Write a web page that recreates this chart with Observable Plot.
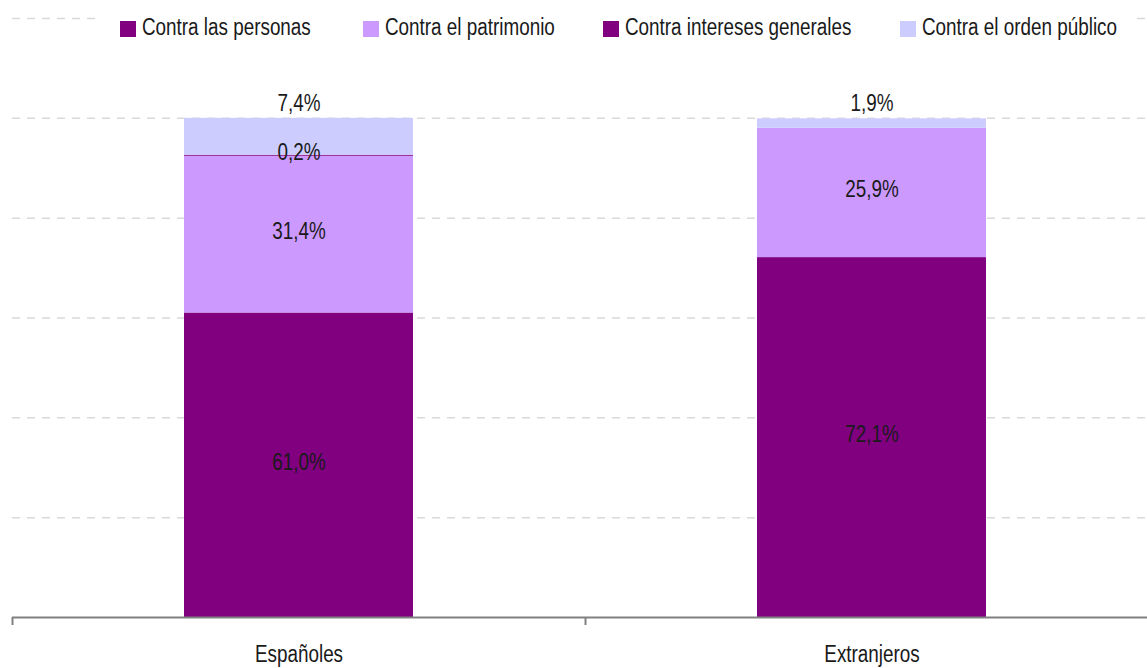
<!DOCTYPE html>
<html>
<head>
<meta charset="utf-8">
<script src="https://cdn.jsdelivr.net/npm/d3@7"></script>
<script src="https://cdn.jsdelivr.net/npm/@observablehq/plot@0.6"></script>
<style>
  html, body { margin: 0; padding: 0; background: #fff; }
  #wrap { position: relative; width: 1147px; height: 668px; overflow: hidden; font-family: "Liberation Sans", Arial, sans-serif; }
  #legend { position: absolute; left: 95px; top: 8px; width: 1040px; height: 38px; background: #fff; display: flex; align-items: center; padding-left: 25px; box-sizing: border-box; font-size: 23px; color: #1a1a1a; overflow: hidden; }
  #legend .item { display: flex; align-items: center; white-space: nowrap; flex: none; }
  #legend .sw { width: 16px; height: 16px; margin-right: 6px; margin-top: 4px; flex: none; }
  #legend .lab { display: inline-block; transform: scaleX(0.82); transform-origin: 0 50%; }
</style>
</head>
<body>
<div id="wrap"><div id="chart"></div><div id="legend"></div></div>
<script>
const categories = ["Españoles", "Extranjeros"];
const series = ["Contra las personas", "Contra el patrimonio", "Contra intereses generales", "Contra el orden público"];
const espanoles = [61.0, 31.4, 0.2, 7.4];
const extranjeros = [72.1, 25.9, 0.0, 1.9];
const colors = ["#800080", "#CC99FF", "#800080", "#CCCCFF"];
const yTicks = [20, 40, 60, 80, 100, 120];
const legendWidths = [243, 240, 297, null];

const values = [espanoles, extranjeros];
const rows = [];
categories.forEach((c, i) => series.forEach((s, j) => rows.push({category: c, series: s, value: values[i][j]})));

const fmt = v => v.toFixed(1).replace(".", ",") + "%";
const topSeries = series[series.length - 1];
const font = '"Liberation Sans", Arial, sans-serif';
const narrow = 0.82;

const chart = Plot.plot({
  width: 1147,
  height: 668,
  marginTop: 18,
  marginBottom: 51,
  marginLeft: 12,
  marginRight: -11,
  style: {fontFamily: font, fontSize: "23px", color: "#1a1a1a", background: "#fff"},
  x: {type: "band", domain: categories, paddingInner: 0.6, paddingOuter: 0.3, axis: null},
  y: {domain: [0, 120], axis: null},
  color: {domain: series, range: colors},
  marks: [
    Plot.gridY(yTicks, {stroke: "#d9d9d9", strokeOpacity: 1, strokeWidth: 1.5, strokeDasharray: "8,7"}),
    Plot.barY(rows, Plot.stackY({x: "category", y: "value", z: "series", fill: "series"})),
    Plot.text(rows, Plot.stackY({x: "category", y: "value", z: "series",
      text: d => (d.series !== topSeries && d.value > 0) ? fmt(d.value) : "",
      fill: "#1a1a1a", dy: -3})),
    Plot.text(rows, Plot.stackY2({x: "category", y: "value", z: "series",
      text: d => (d.series === topSeries && d.value > 0) ? fmt(d.value) : "",
      fill: "#1a1a1a", dy: -15})),
    Plot.ruleY([0], {stroke: "#808080", strokeWidth: 2}),
    Plot.axisX({tickSize: 8, dx: -286.5, tickFormat: () => "", label: null, stroke: "#808080", strokeWidth: 2, strokeOpacity: 1}),
    Plot.axisX({tickSize: 0, tickPadding: 28, fontSize: 23, fill: "#1a1a1a", label: null})
  ]
});
document.getElementById("chart").appendChild(chart);

// condense the text horizontally, like the narrow face of the original
chart.querySelectorAll("text").forEach(t => {
  if (!t.textContent) return;
  const w = t.getComputedTextLength();
  if (w > 0) {
    t.setAttribute("textLength", (w * narrow).toFixed(2));
    t.setAttribute("lengthAdjust", "spacingAndGlyphs");
  }
});

const legend = document.getElementById("legend");
series.forEach((s, i) => {
  const item = document.createElement("div");
  item.className = "item";
  if (legendWidths[i]) item.style.width = legendWidths[i] + "px";
  const sw = document.createElement("span");
  sw.className = "sw";
  sw.style.background = colors[i];
  const t = document.createElement("span");
  t.className = "lab";
  t.textContent = s;
  item.appendChild(sw);
  item.appendChild(t);
  legend.appendChild(item);
});
</script>
</body>
</html>
